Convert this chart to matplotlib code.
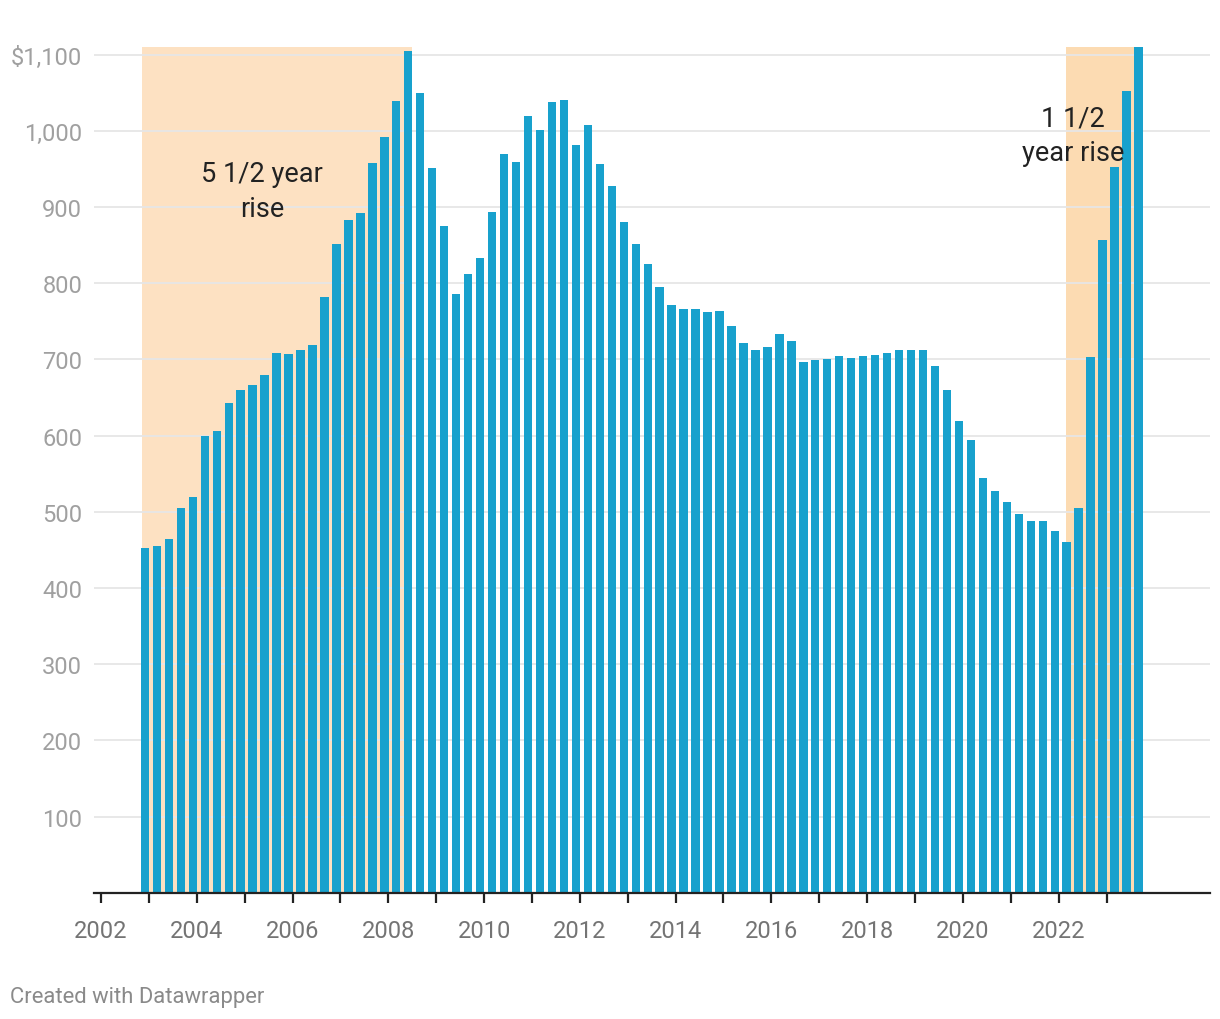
import matplotlib
matplotlib.use("Agg")
import matplotlib.pyplot as plt

plt.rcParams['font.family'] = ['Roboto', 'DejaVu Sans']

# ---- data: quarterly values, 2002 Q4 .. 2023 Q3 ----
first_year, first_quarter = 2002, 4
values = [452, 455, 464, 505, 519, 599, 606, 643, 660, 667,
          680, 708, 707, 712, 719, 782, 851, 883, 892, 958,
          992, 1039, 1105, 1049, 951, 875, 786, 812, 833, 894,
          969, 959, 1019, 1001, 1038, 1041, 982, 1007, 956, 927,
          880, 851, 825, 795, 771, 766, 766, 762, 763, 744,
          721, 712, 716, 734, 724, 696, 699, 700, 704, 702,
          704, 706, 708, 712, 713, 712, 692, 660, 619, 594,
          544, 528, 513, 497, 488, 488, 475, 460, 505, 703,
          857, 953, 1052, 1110]
y_ticks = [100, 200, 300, 400, 500, 600, 700, 800, 900, 1000, 1100]
y_labels = ["100", "200", "300", "400", "500", "600", "700", "800", "900", "1,000", "$1,100"]
x_label_years = list(range(2002, 2023, 2))
x_tick_years = list(range(2002, 2024))
shade_periods = [(2002.85, 2008.50), (2022.15, 2023.75)]
annotations = [("5 1/2 year\nrise", 2005.36, 921), ("1 1/2\nyear rise", 2022.30, 994)]

# quarter positions (bars sit in the later part of each quarter)
x = []
yr, q = first_year, first_quarter
for _ in values:
    x.append(yr + (q - 1) * 0.25 + 0.167)
    q += 1
    if q > 4:
        q = 1
        yr += 1

W, H = 1220, 1020
fig = plt.figure(figsize=(W / 100, H / 100), dpi=100)
left, right, bottom, top = 94, 1210, 893.9, 48
ax = fig.add_axes([left / W, 1 - bottom / H, (right - left) / W, (bottom - top) / H])

ax.set_xlim(2001.854, 2025.16)
ax.set_ylim(0, 1110)

shade_colors = ["#fde1c2", "#fcdbb2"]
for (s, e), c in zip(shade_periods, shade_colors):
    ax.axvspan(s, e, ymin=0, ymax=1, color=c, zorder=0, lw=0)

for t in y_ticks:
    ax.axhline(t, color="#e6e6e6", lw=1.3, zorder=1)

ax.bar(x, values, width=0.175, color="#18a1cd", zorder=2, linewidth=0)

for txt, tx, ty in annotations:
    ax.text(tx, ty, txt, ha="center", va="center", fontsize=19.5,
            color="#222222", linespacing=1.36, zorder=5)

for s in ["top", "right", "left"]:
    ax.spines[s].set_visible(False)
ax.spines["bottom"].set_color("#222222")
ax.spines["bottom"].set_linewidth(1.6)

ax.set_yticks(y_ticks)
ax.set_yticklabels(y_labels)
ax.tick_params(axis="y", length=0, pad=8.5, labelsize=17, labelcolor="#a0a0a0")

ax.set_xticks(x_tick_years)
ax.set_xticklabels([str(y) if y in x_label_years else "" for y in x_tick_years])
ax.tick_params(axis="x", length=7.2, width=1.6, color="#222222", pad=11.5,
               labelsize=17, labelcolor="#747474")

fig.text(10 / W, 1 - 998 / H, "Created with Datawrapper", ha="left", va="center",
         fontsize=15.8, color="#8a8a8a")

fig.savefig("out.png", dpi=100)
